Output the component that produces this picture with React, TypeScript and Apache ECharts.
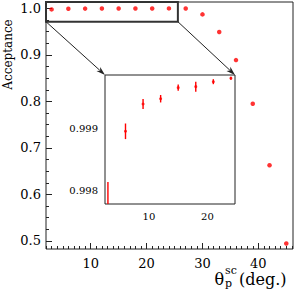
import React, { useEffect, useRef } from "react";
import * as echarts from "echarts";

// ---- data ----
const mainX = [3, 6, 9, 12, 15, 18, 21, 24, 27, 30, 33, 36, 39, 42, 45];
const mainY = [0.99768, 0.998952, 0.999389, 0.999474, 0.999651, 0.999667, 0.999747, 0.999801, 0.9996, 0.987, 0.949, 0.8888, 0.7948, 0.6628, 0.4945];
const insetX = [3, 6, 9, 12, 15, 18, 21, 24];
const insetY = [0.99768, 0.998952, 0.999389, 0.999474, 0.999651, 0.999667, 0.999747, 0.999801];
const insetErr = [0.00046, 0.000125, 0.00008, 0.00006, 0.00005, 0.00008, 0.00004, 0.000025];

// ---- tick labels ----
const mainXTicks = [10, 20, 30, 40];
const mainYTicks = [0.5, 0.6, 0.7, 0.8, 0.9, 1.0];
const insetXTicks = [10, 20];
const insetYTicks = [0.998, 0.999];

// ---- axis ranges ----
const mainXRange = [2, 46.2];
const mainYRange = [0.4828, 1.0136];
const insetXRange = [2.5, 24.7];
const insetYRange = [0.997787, 0.999854];
const zoomBoxX = [2, 25.6];
const zoomBoxY = [0.9712, 1.0136];

function steps(a: number, b: number, s: number) {
  const out: number[] = [];
  const n = Math.round((b - a) / s);
  for (let i = 0; i <= n; i++) out.push(+(a + i * s).toFixed(8));
  return out;
}

const FONT = "DejaVu Serif";
const INK = "#222";

export default function App() {
  const ref = useRef<HTMLDivElement>(null);
  useEffect(() => {
    if (!ref.current) return;
    const chart = echarts.init(ref.current, undefined, { renderer: "svg" });

    const majorX = (gridIndex: number, range: number[], ticks: number[], len: number, fs: number, margin: number) => ({
      type: "value", gridIndex, min: range[0], max: range[1], position: "bottom",
      axisLine: { show: false },
      axisTick: { show: true, inside: true, length: len, customValues: ticks, lineStyle: { color: INK } },
      axisLabel: { show: true, customValues: ticks, color: "#000", fontFamily: FONT, fontSize: fs, margin, formatter: (v: number) => String(v) },
      splitLine: { show: false },
    });
    const minorX = (gridIndex: number, range: number[], ticks: number[], len: number) => ({
      type: "value", gridIndex, min: range[0], max: range[1], position: "bottom",
      axisLine: { show: false },
      axisTick: { show: true, inside: true, length: len, customValues: ticks, lineStyle: { color: INK } },
      axisLabel: { show: false },
      splitLine: { show: false },
    });
    const majorY = (gridIndex: number, range: number[], ticks: number[], len: number, fs: number, margin: number, digits: number) => ({
      type: "value", gridIndex, min: range[0], max: range[1], position: "left",
      axisLine: { show: false },
      axisTick: { show: true, inside: true, length: len, customValues: ticks, lineStyle: { color: INK } },
      axisLabel: { show: true, customValues: ticks, color: "#000", fontFamily: FONT, fontSize: fs, margin, formatter: (v: number) => v.toFixed(digits) },
      splitLine: { show: false },
    });
    const minorY = (gridIndex: number, range: number[], ticks: number[], len: number) => ({
      type: "value", gridIndex, min: range[0], max: range[1], position: "left",
      axisLine: { show: false },
      axisTick: { show: true, inside: true, length: len, customValues: ticks, lineStyle: { color: INK } },
      axisLabel: { show: false },
      splitLine: { show: false },
    });

    const option: any = {
      animation: false,
      backgroundColor: "#fff",
      grid: [
        { left: 46, top: 2, width: 247, height: 247, show: true, borderColor: INK, borderWidth: 1, backgroundColor: "transparent" },
        { left: 105, top: 75, width: 130, height: 129, show: true, borderColor: INK, borderWidth: 1, backgroundColor: "#fff", z: 5 },
      ],
      xAxis: [
        majorX(0, mainXRange, mainXTicks, 6, 13, 8),
        minorX(0, mainXRange, steps(2, 46, 1), 3),
        majorX(1, insetXRange, insetXTicks, 4, 10, 7),
        minorX(1, insetXRange, steps(3, 24.5, 0.5), 2),
      ],
      yAxis: [
        majorY(0, mainYRange, mainYTicks, 6, 13, 5, 1),
        minorY(0, mainYRange, steps(0.5, 1.0, 0.025), 3),
        majorY(1, insetYRange, insetYTicks, 4, 10, 7, 3),
        minorY(1, insetYRange, steps(0.9978, 0.99985, 0.00005), 2),
      ],
      series: [
        {
          type: "scatter", xAxisIndex: 0, yAxisIndex: 0,
          data: mainX.map((x, i) => [x, mainY[i]]),
          symbol: "circle", symbolSize: 4.5,
          itemStyle: { color: "#ff0000" },
          z: 3,
        },
        {
          type: "custom", xAxisIndex: 2, yAxisIndex: 2, clip: true, z: 6,
          data: insetX.map((x, i) => [x, insetY[i], insetErr[i]]),
          renderItem: (params: any, api: any) => {
            const x = api.value(0), y = api.value(1), e = api.value(2);
            const top = api.coord([x, y + e]);
            const bot = api.coord([x, y - e]);
            return {
              type: "line",
              shape: { x1: top[0], y1: top[1], x2: bot[0], y2: bot[1] },
              style: { stroke: "#ff0000", lineWidth: 1.4 },
            };
          },
        },
        {
          type: "scatter", xAxisIndex: 2, yAxisIndex: 2, clip: true, z: 7,
          data: insetX.map((x, i) => [x, insetY[i]]),
          symbol: "circle", symbolSize: 3,
          itemStyle: { color: "#ff0000" },
        },
      ],
    };
    chart.setOption(option);

    const px = (xi: number, yi: number, pt: number[]) =>
      chart.convertToPixel({ xAxisIndex: xi, yAxisIndex: yi } as any, pt) as number[];

    const boxTL = px(0, 0, [zoomBoxX[0], zoomBoxY[1]]);
    const boxBR = px(0, 0, [zoomBoxX[1], zoomBoxY[0]]);
    const insTL = px(2, 2, [insetXRange[0], insetYRange[1]]);
    const insTR = px(2, 2, [insetXRange[1], insetYRange[1]]);

    const arrow = (s: number[], e: number[]) => {
      const dx = e[0] - s[0], dy = e[1] - s[1];
      const L = Math.hypot(dx, dy);
      const ux = dx / L, uy = dy / L;
      const hl = 9, hw = 2.8;
      const bx = e[0] - ux * hl, by = e[1] - uy * hl;
      return [
        { type: "line", shape: { x1: s[0], y1: s[1], x2: bx + ux * 2, y2: by + uy * 2 }, style: { stroke: INK, lineWidth: 1 }, z: 50 },
        {
          type: "polygon", z: 50,
          shape: { points: [[e[0], e[1]], [bx - uy * hw, by + ux * hw], [bx + ux * 2.5, by + uy * 2.5], [bx + uy * hw, by - ux * hw]] },
          style: { fill: INK },
        },
      ];
    };

    chart.setOption({
      graphic: [
        {
          type: "rect", z: 50,
          shape: { x: boxTL[0], y: boxTL[1], width: boxBR[0] - boxTL[0], height: boxBR[1] - boxTL[1] },
          style: { fill: "none", stroke: "#333", lineWidth: 2 },
        },
        ...arrow([boxTL[0], boxBR[1]], insTL),
        ...arrow([boxBR[0], boxBR[1]], insTR),
        {
          type: "text", x: 8, y: 54.5, rotation: Math.PI / 2, z: 50,
          style: { text: "Acceptance", fontFamily: FONT, fontSize: 12, fill: "#000", align: "center", verticalAlign: "middle" },
        },
        {
          type: "text", x: 214.5, y: 279.5, z: 50,
          style: { text: "θ", fontFamily: FONT, fontSize: 16, fill: "#000", align: "left", verticalAlign: "middle" },
        },
        {
          type: "text", x: 225, y: 270, z: 50,
          style: { text: "sc", fontFamily: FONT, fontSize: 11, fill: "#000", align: "left", verticalAlign: "middle" },
        },
        {
          type: "text", x: 225, y: 283, z: 50,
          style: { text: "p", fontFamily: FONT, fontSize: 11, fill: "#000", align: "left", verticalAlign: "middle" },
        },
        {
          type: "text", x: 239, y: 279.5, z: 50,
          style: { text: "(deg.)", fontFamily: FONT, fontSize: 16, fill: "#000", align: "left", verticalAlign: "middle" },
        },
      ],
    });

    return () => chart.dispose();
  }, []);
  return <div ref={ref} style={{ position: "absolute", left: 0, top: 0, width: 295, height: 290 }} />;
}
